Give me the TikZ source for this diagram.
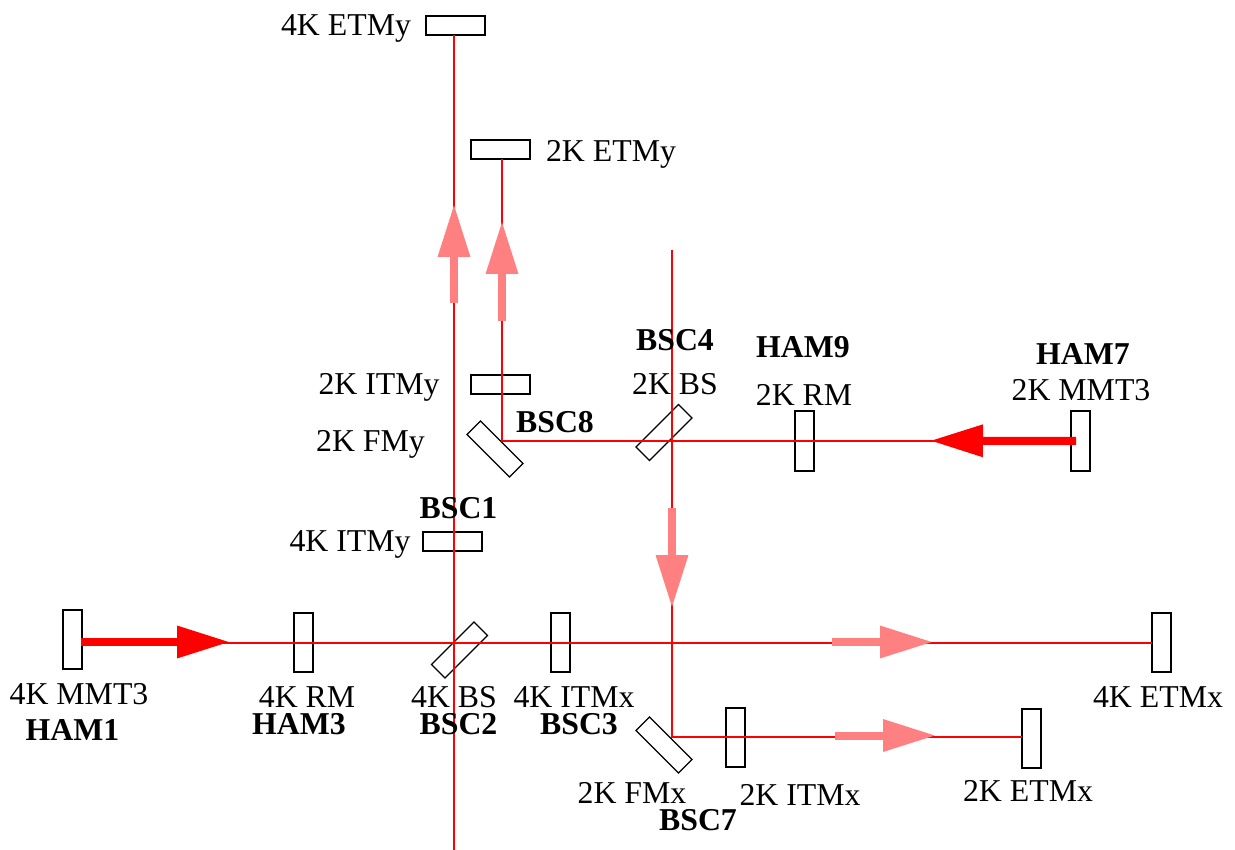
\documentclass[tikz,border=0pt]{standalone}
\usepackage{fontspec}
\setmainfont{Liberation Serif}
\usetikzlibrary{arrows.meta}
\definecolor{beamRed}{HTML}{FF0000}
\definecolor{beamSoft}{HTML}{FF8080}

\begin{document}
\begin{tikzpicture}[
    x=1pt, y=-1pt,
    every node/.style = {inner sep=0pt, outer sep=0pt},
    lbl/.style        = {font=\fontsize{31.8}{36}\selectfont, anchor=base},
    chamber/.style    = {lbl, font=\fontsize{31.8}{36}\selectfont\bfseries},
    hmirror/.style    = {draw=black, line width=2pt, minimum width=59pt, minimum height=19pt},
    vmirror/.style    = {draw=black, line width=2pt, minimum width=19pt, minimum height=59pt},
    tilted/.style     = {draw=black, line width=1.2pt, minimum width=60pt, minimum height=19pt, rotate=#1},
    beam/.style       = {draw=beamRed, line width=1.8pt},
    strong/.style     = {draw=beamRed, line width=8pt, -{Triangle[length=53pt,width=30.5pt,fill=beamRed]}},
    weak/.style       = {draw=beamSoft, line width=8pt, -{Triangle[length=53pt,width=30.5pt,fill=beamSoft]}},
  ]
  \useasboundingbox (0,0) rectangle (1235,850);

  %% Y arm mirrors
  \node[hmirror] (etmyFour) at (455.3,25.2)  {};
  \node[hmirror] (etmyTwo)  at (500.3,150) {};
  \node[hmirror] (itmyTwo)  at (500.3,385) {};
  \node[hmirror] (itmyFour) at (452.3,541.7) {};
  \node[tilted=-45] (fmyTwo) at (495,449) {};

  %% 2K input row
  \node[tilted=45] (bsTwo)  at (664,432.5) {};
  \node[vmirror]   (rmTwo)  at (804.5,441) {};
  \node[vmirror]   (mmtTwo) at (1080.5,441) {};

  %% 4K input row
  \node[vmirror]   (mmtFour) at (72.5,639.7) {};
  \node[vmirror]   (rmFour)  at (303.5,642.7) {};
  \node[tilted=45] (bsFour)  at (459.5,650) {};
  \node[vmirror]   (itmxFour) at (560.5,642.7) {};
  \node[vmirror]   (etmxFour) at (1161.5,642.7) {};

  %% 2K X arm
  \node[tilted=-45] (fmxTwo) at (664,745) {};
  \node[vmirror]    (itmxTwo) at (735.5,737) {};
  \node[vmirror]    (etmxTwo) at (1031.5,738.7) {};

  %% Free beam ends and fold points
  \coordinate (yBottom) at (454,850);
  \coordinate (foldY)   at (502,441);
  \coordinate (inTwo)   at (1076,441);
  \coordinate (bsTop)   at (672,250);
  \coordinate (foldX)   at (672,737);
  \coordinate (inFour)  at (81,642.7);

  %% Beams
  \draw[beam] ([xshift=-1.3]etmyFour.south) -- (yBottom);
  \draw[beam] ([xshift=1.7]etmyTwo.south) -- (foldY) -- (inTwo);
  \draw[beam] (bsTop) -- (foldX) -- (etmxTwo.west |- foldX);
  \draw[beam] (inFour) -- (etmxFour.west);

  %% Arrow end points
  \coordinate (upATail) at (454,303);
  \coordinate (upAHead) at (454,204);
  \coordinate (upBTail) at (502,321);
  \coordinate (upBHead) at (502,221);
  \coordinate (downTail) at (672,508);
  \coordinate (downHead) at (672,608);
  \coordinate (rightATail) at (832,642);
  \coordinate (rightAHead) at (933,642);
  \coordinate (rightBTail) at (835,735.5);
  \coordinate (rightBHead) at (936,735.5);
  \coordinate (inFourTail) at (81,642);
  \coordinate (inFourHead) at (230,642);
  \coordinate (inTwoHead)  at (930,440.7);

  %% Power arrows
  \draw[weak] (upATail) -- (upAHead);
  \draw[weak] (upBTail) -- (upBHead);
  \draw[weak] (downTail) -- (downHead);
  \draw[weak] (rightATail) -- (rightAHead);
  \draw[weak] (rightBTail) -- (rightBHead);
  \draw[strong] (inFourTail) -- (inFourHead);
  \draw[strong] (inTwo) -- (inTwoHead);

  %% Optic labels
  \node[lbl] (tEtmyFour) at (346,36)  {4K ETMy};
  \node[lbl] (tEtmyTwo)  at (611,162) {2K ETMy};
  \node[lbl] (tItmyTwo)  at (379,395) {2K ITMy};
  \node[lbl] (tFmyTwo)   at (370.5,451) {2K FMy};
  \node[lbl] (tBsTwo)    at (675,395) {2K BS};
  \node[lbl] (tRmTwo)    at (804,406) {2K RM};
  \node[lbl] (tMmtTwo)   at (1081,400) {2K MMT3};
  \node[lbl] (tItmyFour) at (350,551) {4K ITMy};
  \node[lbl] (tMmtFour)  at (79,704)  {4K MMT3};
  \node[lbl] (tRmFour)   at (307,707) {4K RM};
  \node[lbl] (tBsFour)   at (454,707) {4K BS};
  \node[lbl] (tItmxFour) at (574,707) {4K ITMx};
  \node[lbl] (tEtmxFour) at (1158,707) {4K ETMx};
  \node[lbl] (tFmxTwo)   at (632,803) {2K FMx};
  \node[lbl] (tItmxTwo)  at (800,805) {2K ITMx};
  \node[lbl] (tEtmxTwo)  at (1028,801) {2K ETMx};

  %% Chamber labels
  \node[chamber] (bscFour)  at (675,351) {BSC4};
  \node[chamber] (hamNine)  at (803,358) {HAM9};
  \node[chamber] (hamSeven) at (1083,365) {HAM7};
  \node[chamber] (bscEight) at (555,432) {BSC8};
  \node[chamber] (bscOne)   at (458.5,518) {BSC1};
  \node[chamber] (hamOne)   at (72.5,740) {HAM1};
  \node[chamber] (hamThree) at (299,734) {HAM3};
  \node[chamber] (bscTwo)   at (458.5,734) {BSC2};
  \node[chamber] (bscThree) at (579,734) {BSC3};
  \node[chamber] (bscSeven) at (698,830) {BSC7};

\end{tikzpicture}
\end{document}
